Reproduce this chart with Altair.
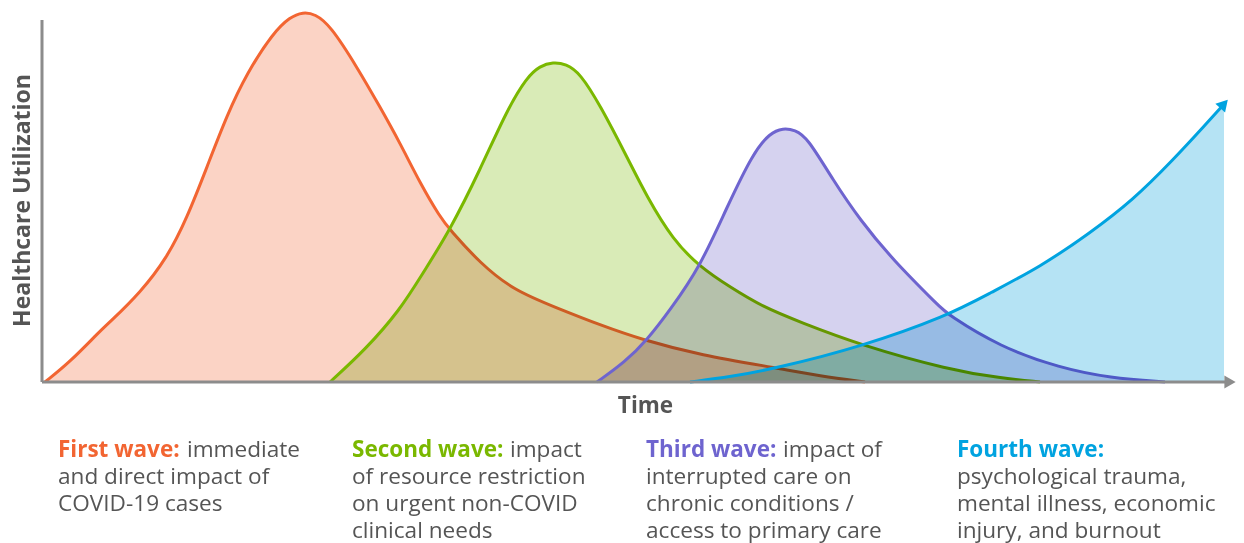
import altair as alt
import pandas as pd

# ---------------- data ----------------
waves = ["First wave", "Second wave", "Third wave", "Fourth wave"]
line_colors = ["#F26532", "#7AB800", "#6E64CF", "#00A3E0"]
fill_colors = ["#FBD3C5", "#D9EBB7", "#D5D2EF", "#B5E3F4"]

first_t = [3, 28, 58, 68, 98, 125, 145, 165, 185, 205, 231, 248, 261, 273, 288, 315, 338, 358, 378, 398, 408, 438, 471, 515, 558, 601, 658, 735, 778, 823]
first_u = [0, 20, 51, 60, 89, 124, 164, 215, 267, 309, 349, 365, 370, 368, 357, 315, 275, 239, 199, 165, 152, 119, 92, 74, 57, 42, 27, 14, 6, 0]

second_t = [288, 323, 358, 381, 408, 438, 465, 485, 498, 511, 524, 538, 558, 585, 605, 631, 658, 688, 721, 758, 818, 908, 958, 998]
second_u = [0, 32, 72, 109, 152, 212, 272, 305, 316, 320, 318, 309, 277, 225, 185, 142, 115, 95, 75, 60, 37, 12, 4, 0]

third_t = [555, 583, 605, 628, 658, 685, 711, 728, 741, 753, 765, 791, 818, 851, 898, 905, 958, 1018, 1068, 1123]
third_u = [0, 20, 42, 72, 115, 175, 229, 249, 254, 252, 245, 202, 162, 122, 75, 68, 35, 14, 4, 0]

fourth_t = [648, 688, 735, 818, 905, 948, 998, 1048, 1091, 1131, 1165, 1182]
fourth_u = [0, 5, 14, 35, 66, 89, 115, 149, 182, 222, 259, 278]

label_heads = ["First wave:", "Second wave:", "Third wave:", "Fourth wave:"]
label_first_rest = ["immediate", "impact", "impact of", ""]
label_more_lines = [
    ["and direct impact of", "COVID-19 cases"],
    ["of resource restriction", "on urgent non-COVID", "clinical needs"],
    ["interrupted care on", "chronic conditions /", "access to primary care"],
    ["psychological trauma,", "mental illness, economic", "injury, and burnout"],
]

# ---------------- tables ----------------
rows = []
for w, ts, us in zip(waves, [first_t, second_t, third_t, fourth_t],
                     [first_u, second_u, third_u, fourth_u]):
    for t, u in zip(ts, us):
        rows.append({"wave": w, "t": t, "u": u})
df = pd.DataFrame(rows)

tip = pd.DataFrame([{"t": fourth_t[-1], "u": fourth_u[-1]}])

# caption layout (in the chart's own time/utilisation units)
col_x = [16, 310, 604, 915]
rest_x = [145, 468, 741, None]
line_y = [-75, -102, -129, -156]

head_rows, body_rows = [], []
for i in range(4):
    head_rows.append({"t": col_x[i], "u": line_y[0], "text": label_heads[i], "c": line_colors[i]})
    if label_first_rest[i]:
        body_rows.append({"t": rest_x[i], "u": line_y[0], "text": label_first_rest[i]})
    for j, s in enumerate(label_more_lines[i]):
        body_rows.append({"t": col_x[i], "u": line_y[j + 1], "text": s})
heads = pd.DataFrame(head_rows)
bodies = pd.DataFrame(body_rows)

axis_y = pd.DataFrame([{"t": 0, "u": 0, "u2": 362}])
axis_x = pd.DataFrame([{"t": 0, "t2": 1184, "u": 0}])
axis_tip = pd.DataFrame([{"t": 1188, "u": 0}])

# ---------------- encodings ----------------
GRAY = "#8C8C8C"
TXT = "#555555"
W = 1194
xs = alt.Scale(domain=[0, W], nice=False, zero=False)
ys = alt.Scale(domain=[0, 372], nice=False, zero=False)
xaxis = alt.Axis(title="Time", domain=False, ticks=False, labels=False, grid=False,
                 titleFont="Open Sans", titleFontSize=22.5, titleFontWeight="bold",
                 titleColor=TXT, titlePadding=12, titleX=603)
yaxis = alt.Axis(title="Healthcare Utilization", domain=False, ticks=False, labels=False,
                 grid=False, titleFont="Open Sans", titleFontSize=23,
                 titleFontWeight="bold", titleColor=TXT, titlePadding=8, titleY=190)


def X(f="t"):
    return alt.X(f"{f}:Q", scale=xs, axis=xaxis)


def Y(f="u"):
    return alt.Y(f"{f}:Q", scale=ys, axis=yaxis, stack=None)


# each wave: its fill multiplies what lies below, its own line is drawn on top
wave_layers = []
for w, lc, fc in zip(waves, line_colors, fill_colors):
    base = alt.Chart(df).transform_filter(alt.datum.wave == w)
    wave_layers.append(
        base.mark_area(interpolate="basis", blend="multiply", color=fc).encode(x=X(), y=Y())
    )
    wave_layers.append(
        base.mark_line(interpolate="basis", strokeWidth=3, color=lc).encode(x=X(), y=Y())
    )

arrow = alt.Chart(tip).mark_point(shape="triangle-up", filled=True, opacity=1, size=170,
                                  angle=42, color=line_colors[3]).encode(x=X(), y=Y())

yline = alt.Chart(axis_y).mark_rule(color=GRAY, strokeWidth=3).encode(
    x=X(), y=Y(), y2="u2:Q")
xline = alt.Chart(axis_x).mark_rule(color=GRAY, strokeWidth=3).encode(
    x=X(), x2="t2:Q", y=Y())
xtip = alt.Chart(axis_tip).mark_point(shape="triangle-right", filled=True, opacity=1,
                                       size=170, color=GRAY).encode(x=X(), y=Y())

head_text = alt.Chart(heads).mark_text(font="Open Sans", fontSize=22.5, fontWeight="bold",
                                       align="left", baseline="alphabetic").encode(
    x=X(), y=Y(), text="text:N", color=alt.Color("c:N", scale=None))
body_text = alt.Chart(bodies).mark_text(font="Open Sans", fontSize=22.6, color=TXT,
                                        align="left", baseline="alphabetic").encode(
    x=X(), y=Y(), text="text:N")

chart = alt.layer(*wave_layers, yline, xline, xtip, arrow, head_text, body_text).properties(
    width=W, height=372,
    autosize=alt.AutoSizeParams(type="none"),
    padding={"left": 34, "top": 2, "right": 0, "bottom": 161},
).configure_view(stroke=None)

chart.save("out.html", embed_options={"renderer": "svg", "actions": False})
